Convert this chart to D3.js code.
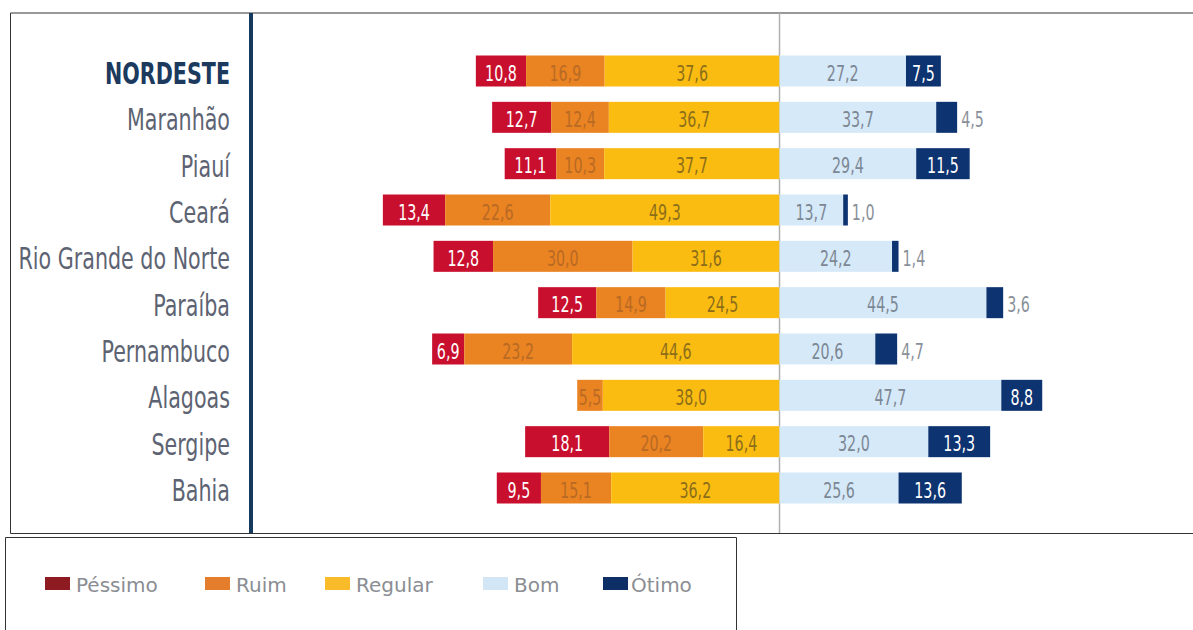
<!DOCTYPE html>
<html>
<head>
<meta charset="utf-8">
<script src="https://cdn.jsdelivr.net/npm/d3@7"></script>
<style>
  body { margin: 0; background: #fff; }
  text { font-family: "DejaVu Sans", sans-serif; }
</style>
</head>
<body>
<script>
// data
var categories = ["NORDESTE", "Maranhão", "Piauí", "Ceará", "Rio Grande do Norte",
                  "Paraíba", "Pernambuco", "Alagoas", "Sergipe", "Bahia"];
var pessimo = [10.8, 12.7, 11.1, 13.4, 12.8, 12.5, 6.9, 0, 18.1, 9.5];
var ruim    = [16.9, 12.4, 10.3, 22.6, 30.0, 14.9, 23.2, 5.5, 20.2, 15.1];
var regular = [37.6, 36.7, 37.7, 49.3, 31.6, 24.5, 44.6, 38.0, 16.4, 36.2];
var bom     = [27.2, 33.7, 29.4, 13.7, 24.2, 44.5, 20.6, 47.7, 32.0, 25.6];
var otimo   = [7.5, 4.5, 11.5, 1.0, 1.4, 3.6, 4.7, 8.8, 13.3, 13.6];

var legendNames = ["Péssimo", "Ruim", "Regular", "Bom", "Ótimo"];
var barColors = ["#c8102e", "#ea8322", "#fbbc12", "#d6e9f8", "#0d3370"];
var legendColors = ["#8e1b22", "#e47d2c", "#f9bb2a", "#d2e6f5", "#0d2f66"];
var textColors = ["#ffffff", "#b86a24", "#8c6e1a", "#7c8794", "#ffffff"];

var W = 1193, H = 630;
var svg = d3.select("body").append("svg")
    .attr("width", W)
    .attr("height", H);

var x = d3.scaleLinear().domain([-90, 90]).range([361, 1198]);
var y = d3.scalePoint().domain(categories).range([71, 488]);
var barH = 31;
var squeeze = 0.7; // condensed look

// frame
svg.append("path")
    .attr("d", "M1193,13 H10.5 V533.5 H1193")
    .attr("fill", "none")
    .attr("stroke", "#333")
    .attr("stroke-width", 1);

// center line
svg.append("line")
    .attr("x1", x(0)).attr("x2", x(0))
    .attr("y1", 13).attr("y2", 533)
    .attr("stroke", "#b0b0b0")
    .attr("stroke-width", 1.5);

// navy divider
svg.append("line")
    .attr("x1", 251).attr("x2", 251)
    .attr("y1", 13).attr("y2", 533)
    .attr("stroke", "#163a5e")
    .attr("stroke-width", 4);

// build segments
var segs = [];
categories.forEach(function(c, i) {
    var neg = [pessimo[i], ruim[i], regular[i]];
    var start = -(neg[0] + neg[1] + neg[2]);
    neg.forEach(function(v, k) {
        segs.push({cat: c, k: k, x0: start, x1: start + v, v: v});
        start += v;
    });
    segs.push({cat: c, k: 3, x0: 0, x1: bom[i], v: bom[i]});
    segs.push({cat: c, k: 4, x0: bom[i], x1: bom[i] + otimo[i], v: otimo[i]});
});
segs = segs.filter(function(d) { return d.v > 0; });

var g = svg.append("g");
g.selectAll("rect")
    .data(segs)
    .enter()
    .append("rect")
    .attr("x", function(d) { return x(d.x0); })
    .attr("width", function(d) { return x(d.x1) - x(d.x0); })
    .attr("y", function(d) { return y(d.cat) - barH / 2; })
    .attr("height", barH)
    .attr("fill", function(d) { return barColors[d.k]; });

var fmt = function(v) { return v.toFixed(1).replace(".", ","); };
var outside = function(d) { return d.k == 4 && d.v < 6; };

g.selectAll("text.val")
    .data(segs)
    .enter()
    .append("text")
    .attr("class", "val")
    .attr("transform", function(d) {
        var cx = outside(d) ? x(d.x1) + 4 : (x(d.x0) + x(d.x1)) / 2;
        return "translate(" + cx + "," + (y(d.cat) + 9.5) + ") scale(0.68,1)";
    })
    .attr("text-anchor", function(d) { return outside(d) ? "start" : "middle"; })
    .attr("font-size", 21)
    .attr("fill", function(d) {
        if (outside(d)) return "#8a9099";
        return textColors[d.k];
    })
    .text(function(d) { return fmt(d.v); });

// category labels
svg.selectAll("text.cat")
    .data(categories)
    .enter()
    .append("text")
    .attr("class", "cat")
    .attr("transform", function(d) { return "translate(230," + (y(d) + 13) + ") scale(" + squeeze + ",1)"; })
    .attr("text-anchor", "end")
    .attr("font-size", 29.5)
    .attr("font-weight", function(d, i) { return i == 0 ? "bold" : "normal"; })
    .attr("fill", function(d, i) { return i == 0 ? "#1b3a5e" : "#5d6372"; })
    .text(function(d) { return d; });

// legend
svg.append("path")
    .attr("d", "M5.5,630 V537.5 H736.5 V630")
    .attr("fill", "none")
    .attr("stroke", "#333")
    .attr("stroke-width", 1);

var legX = [45, 205, 325, 483, 603];
var lg = svg.selectAll("g.leg")
    .data(legendNames)
    .enter()
    .append("g")
    .attr("class", "leg")
    .attr("transform", function(d, i) { return "translate(" + legX[i] + ",577)"; });

lg.append("rect")
    .attr("width", 25).attr("height", 13)
    .attr("fill", function(d, i) { return legendColors[i]; });

lg.append("text")
    .attr("x", function(d, i) { return i == 4 ? 28 : 31; })
    .attr("y", 15)
    .attr("font-size", 20)
    .attr("fill", "#8a8d92")
    .text(function(d) { return d; });
</script>
</body>
</html>
